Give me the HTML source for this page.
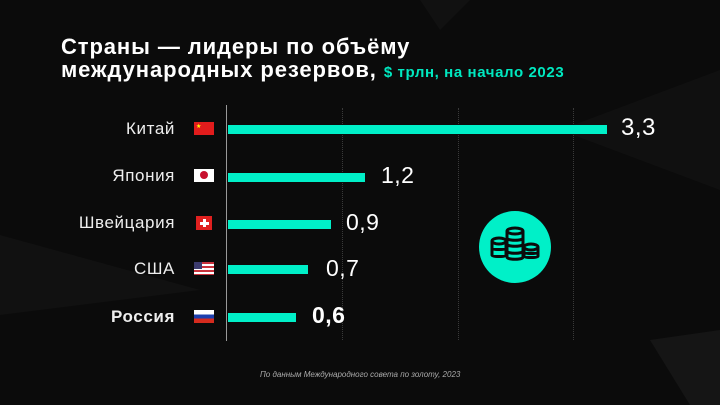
<!DOCTYPE html>
<html><head><meta charset="utf-8"><style>
html,body{margin:0;padding:0}
body{width:720px;height:405px;overflow:hidden;background:#0b0b0b;position:relative;font-family:"Liberation Sans",sans-serif;color:#fff}
.abs{position:absolute}
.t{left:61px;font-weight:bold;font-size:22px;line-height:23px;white-space:nowrap;letter-spacing:0.9px}
.lab{position:absolute;right:545px;font-size:17px;color:#eee;white-space:nowrap;letter-spacing:0.6px}
.bar{position:absolute;left:228px;height:9px;background:#00f0c8}
.val{position:absolute;font-size:23px;color:#fff;letter-spacing:0.5px}
.flag{position:absolute;left:194px;width:20px;height:13px}
.grid{position:absolute;top:108px;height:232px;border-left:1px dotted #3a3a3a}
</style></head><body>
<svg class="abs" style="left:0;top:0" width="720" height="405">
<polygon points="0,235 200,290 0,315" fill="#111"/>
<polygon points="560,130 720,70 720,190" fill="#101010"/>
<polygon points="650,340 720,330 720,405 690,405" fill="#151515"/>
<polygon points="420,0 470,0 440,30" fill="#111"/>
</svg>
<div class="abs t" style="top:35px">Страны — лидеры по объёму</div>
<div class="abs t" style="top:58px">международных резервов, <span style="color:#00e8c0;font-size:15px;letter-spacing:0.6px">$ трлн, на начало 2023</span></div>
<div class="abs" style="left:226px;top:105px;width:1px;height:236px;background:#999"></div>
<div class="grid" style="left:342px"></div>
<div class="grid" style="left:458px"></div>
<div class="grid" style="left:573px"></div>

<div class="lab" style="top:119px">Китай</div>
<div class="flag" style="top:122px;background:#e21c1c"><span style="position:absolute;left:2px;top:1px;color:#ff0;font-size:6px">★</span></div>
<div class="bar" style="top:125px;width:379px"></div>
<div class="val" style="left:621px;top:114px;font-size:24px">3,3</div>

<div class="lab" style="top:166px">Япония</div>
<div class="flag" style="top:169px;background:#fff"><div style="position:absolute;left:6px;top:2px;width:8px;height:8px;border-radius:50%;background:#c8102e"></div></div>
<div class="bar" style="top:173px;width:137px"></div>
<div class="val" style="left:381px;top:162px">1,2</div>

<div class="lab" style="top:213px">Швейцария</div>
<div class="flag" style="top:216px;left:196px;width:16px;height:14px;background:#e0201f"><div style="position:absolute;left:7px;top:3px;width:3px;height:8px;background:#fff"></div><div style="position:absolute;left:4px;top:6px;width:9px;height:3px;background:#fff"></div></div>
<div class="bar" style="top:220px;width:103px"></div>
<div class="val" style="left:346px;top:209px">0,9</div>

<div class="lab" style="top:259px">США</div>
<div class="flag" style="top:262px;background:repeating-linear-gradient(#c8323c 0 2px,#fff 2px 4px)"><div style="position:absolute;left:0;top:0;width:8px;height:7px;background:#3c3b6e"></div></div>
<div class="bar" style="top:265px;width:80px"></div>
<div class="val" style="left:326px;top:255px">0,7</div>

<div class="lab" style="top:307px;font-weight:bold">Россия</div>
<div class="flag" style="top:310px;background:linear-gradient(#fff 0 33%,#1c3fae 33% 66%,#d52b1e 66%)"></div>
<div class="bar" style="top:313px;width:68px"></div>
<div class="val" style="left:312px;top:302px;font-weight:bold">0,6</div>

<svg class="abs" style="left:479px;top:211px" width="72" height="72" viewBox="0 0 72 72">
<circle cx="36" cy="36" r="36" fill="#00f0c8"/>
<g fill="none" stroke="#0b0b0b" stroke-width="3">
<ellipse cx="20" cy="30" rx="7" ry="3"/><path d="M13 30v14c0 2 14 2 14 0V30M13 37c0 2 14 2 14 0"/>
<ellipse cx="52" cy="36" rx="7" ry="3"/><path d="M45 36v9c0 2 14 2 14 0V36M45 41c0 2 14 2 14 0"/>
<ellipse cx="36" cy="20" rx="8" ry="3"/><path d="M28 20v26c0 3 16 3 16 0V20M28 27c0 3 16 3 16 0M28 33c0 3 16 3 16 0M28 40c0 3 16 3 16 0"/>
</g></svg>

<div class="abs" style="left:260px;top:370px;font-size:8px;font-style:italic;color:#aaa;white-space:nowrap">По данным Международного совета по золоту, 2023</div>
</body></html>
